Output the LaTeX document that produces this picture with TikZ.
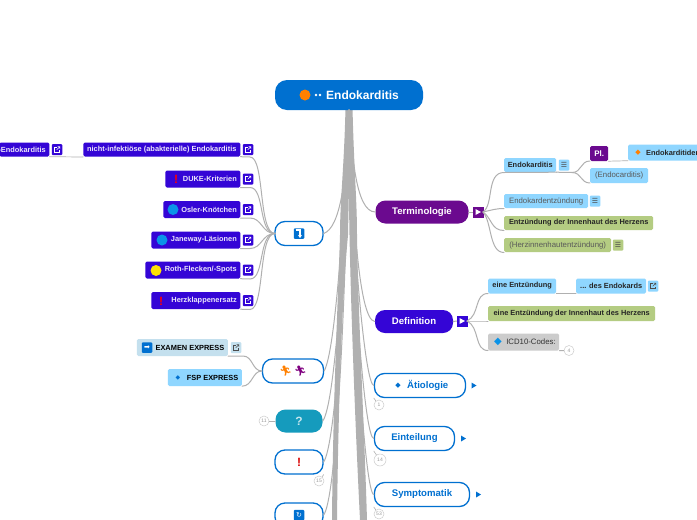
\documentclass[tikz,border=0pt]{standalone}
\usepackage{fontspec}
\usetikzlibrary{arrows.meta}
\setmainfont{Liberation Sans}
\newfontfamily\djv{DejaVu Sans}
\newfontfamily\emojif{Noto Emoji}
\definecolor{cblue}{HTML}{0070D0}
\definecolor{cindigo}{HTML}{3405D6}
\definecolor{cpurple}{HTML}{6B0A8F}
\definecolor{clight}{HTML}{8FD6FF}
\definecolor{cgreen}{HTML}{B4CC82}
\definecolor{cpale}{HTML}{C4E0EE}
\definecolor{cgrey}{HTML}{CCCCCC}
\definecolor{cteal}{HTML}{159BBD}
\definecolor{cline}{HTML}{B0B0B0}
\definecolor{cdot}{HTML}{0A93E8}
\newcommand{\rtxt}[2]{\makebox[#1pt][r]{#2\hspace*{3.5pt}}}
\tikzset{
  conn/.style={draw=cline,line width=1pt,line cap=round},
  root/.style={fill=cblue,rounded corners=12pt,minimum width=148pt,minimum height=30pt,inner sep=0pt},
  whitebox/.style={draw=cblue,line width=1.3pt,fill=white,rounded corners=10pt,inner sep=0pt,text=cblue,font=\bfseries\fontsize{9.6}{10}\selectfont},
  filled/.style={rounded corners=10pt,inner sep=0pt,text=white,font=\bfseries\fontsize{9.6}{10}\selectfont},
  ind/.style={fill=cindigo,rounded corners=1.5pt,inner sep=0pt,text=white!90!cindigo,font=\bfseries\fontsize{7.4}{8}\selectfont,minimum height=14pt},
  leaf/.style={rounded corners=1.5pt,inner sep=0pt,text=black!85,font=\bfseries\fontsize{7.4}{8}\selectfont,minimum height=14pt},
  plainleaf/.style={leaf,text=black!65,font=\fontsize{7.8}{8}\selectfont},
  icon/.style={rounded corners=1pt,minimum width=10.5pt,minimum height=11pt,inner sep=0pt,font=\djv\fontsize{7}{7}\selectfont},
  blueic/.style={fill=cblue,rounded corners=1pt,minimum size=10.5pt,inner sep=0pt,text=white,font=\djv\fontsize{7}{7}\selectfont},
  badge/.style={circle,draw=black!20,fill=white,line width=.5pt,minimum size=10pt,inner sep=0pt,text=black!40,font=\fontsize{5}{5}\selectfont},
  linkglyph/.pic={
    \draw[line width=.55pt,#1] (-.5,-2.5) -- (-2.7,-2.5) -- (-2.7,2.7) -- (2.5,2.7) -- (2.5,.5);
    \draw[line width=.55pt,#1] (-.3,.3) -- (2.9,-2.9) (.6,-2.9) -- (2.9,-2.9) -- (2.9,-.6);
  },
}
\begin{document}
\begin{tikzpicture}[x=1pt,y=-1pt]
\path[use as bounding box,clip] (0,0) rectangle (697,520);
\fill[white] (0,0) rectangle (697,520);
\coordinate (t0) at (349,110);
% trunk strands
\fill[cline] (345.5,108) .. controls (344,170) and (340,200) .. (340,235) .. controls (338,300) and (333,400) .. (332,520)
  -- (337,520) .. controls (338,430) and (341,310) .. (348,235) .. controls (348.5,210) and (349,190) .. (349,180)
  .. controls (349,190) and (349,210) .. (349.5,235) .. controls (351,310) and (355,420) .. (360,520)
  -- (367,520) .. controls (364,420) and (358,310) .. (357,235) .. controls (357,200) and (354,170) .. (352.5,108) -- cycle;
% main nodes
\node[root] (root) at (349,95) {};
\node[text=white,font=\bfseries\fontsize{12}{12}\selectfont,anchor=west,inner sep=0pt] (roottext) at (326,95) {Endokarditis};
\fill[orange] (305,95) circle (5.5pt);
\fill[white] (316,95) circle (1.3pt) (320,95) circle (1.3pt);
\node[whitebox,minimum width=48pt,minimum height=24pt] (help) at (299,233.5) {};
\node[blueic] (helpic) at (299,233.5) {};
\draw[white,line width=1.1pt,-{Stealth[length=3pt,width=4pt]}] (295.5,230) -- (300,230) -- (300,238);
\node[whitebox,minimum width=61pt,minimum height=24pt,font=\emojif\fontsize{10}{10}\selectfont] (run) at (293,371) {\textcolor{orange}{🏃}\hspace{2pt}\textcolor{violet}{🏃}};
\node[filled,fill=cteal,minimum width=47pt,minimum height=23pt,text=white!75!cteal,font=\bfseries\fontsize{12}{12}\selectfont] (quest) at (299,421) {?};
\node[whitebox,minimum width=48pt,minimum height=24pt,text=red!85!black,font=\bfseries\fontsize{12}{12}\selectfont] (excl) at (299,462) {!};
\node[whitebox,minimum width=48pt,minimum height=24pt] (sync) at (299,515) {};
\node[blueic] (syncic) at (299,515) {↻};
\node[filled,fill=cpurple,minimum width=93pt,minimum height=23pt] (term) at (422,212) {Terminologie};
\node[filled,fill=cindigo,minimum width=78pt,minimum height=23pt] (def) at (414,321.5) {Definition};
\node[whitebox,minimum width=91pt,minimum height=24pt] (aet) at (420,385.5) {};
\node[text=cblue,font=\bfseries\fontsize{9.6}{10}\selectfont,inner sep=0pt,anchor=west] (aett) at (407,385.5) {Ätiologie};
\node[text=cblue,font=\djv\fontsize{7}{7}\selectfont,inner sep=0pt] (aetd) at (398,385.5) {◆};
\node[whitebox,minimum width=80pt,minimum height=24pt] (ein) at (414.5,438.5) {Einteilung};
\node[whitebox,minimum width=95pt,minimum height=24pt] (sym) at (422,494.5) {Symptomatik};
% trunk branches
\draw[conn] (t0) .. controls (347,180) and (340,228) .. (help.east);
\draw[conn] (t0) .. controls (345,200) and (336,350) .. (run.east);
\draw[conn] (t0) .. controls (345,250) and (335,405) .. (quest.east);
\draw[conn] (t0) .. controls (345,300) and (335,445) .. (excl.east);
\draw[conn] (t0) .. controls (345,340) and (335,500) .. (sync.east);
\draw[conn] (t0) .. controls (352,150) and (355,212) .. (term.west);
\draw[conn] (t0) .. controls (352,200) and (358,320) .. (def.west);
\draw[conn] (t0) .. controls (352,240) and (365,385) .. (aet.west);
\draw[conn] (t0) .. controls (352,280) and (365,440) .. (ein.west);
\draw[conn] (t0) .. controls (352,300) and (365,495) .. (sym.west);
% left indigo group
\coordinate (hj) at (275,233.5);
\node[ind,minimum width=157pt,anchor=east] (n1) at (240.5,149.5) {nicht-infektiöse (abakterielle) Endokarditis};
\node[ind,minimum width=50pt,anchor=east] (n0) at (49.5,149.5) {\rtxt{50}{-Endokarditis}};
\node[ind,minimum width=75pt,minimum height=17pt,anchor=east] (n2) at (240.5,179) {\rtxt{75}{DUKE-Kriterien}};
\node[ind,minimum width=77pt,minimum height=17pt,anchor=east] (n3) at (240.5,209.5) {\rtxt{77}{Osler-Knötchen}};
\node[ind,minimum width=89pt,minimum height=17pt,anchor=east] (n4) at (240.5,240) {\rtxt{89}{Janeway-Läsionen}};
\node[ind,minimum width=95pt,minimum height=17pt,anchor=east] (n5) at (240.5,270) {\rtxt{95}{Roth-Flecken/-Spots}};
\node[ind,minimum width=89pt,minimum height=17pt,anchor=east] (n6) at (240.5,300.5) {\rtxt{89}{Herzklappenersatz}};
\node[text=red,font=\bfseries\fontsize{12}{12}\selectfont,inner sep=0pt] (n2i) at (176,179) {!};
\node[text=red,font=\bfseries\fontsize{12}{12}\selectfont,inner sep=0pt] (n6i) at (161,301) {!};
\fill[cdot] (173,209.5) circle (5.5pt);
\fill[cdot] (162,240) circle (5.5pt);
\fill[yellow!85!orange] (156,270.5) circle (5.5pt);
\foreach \n/\y in {n1/149.5,n2/179,n3/209.5,n4/240,n5/270,n6/300.5}{
  \node[icon,fill=cindigo] (\n l) at (248,\y) {};
  \pic at (\n l) {linkglyph=white};
}
\node[icon,fill=cindigo] (n0l) at (57,149.5) {};
\pic at (n0l) {linkglyph=white};
\draw[conn,line width=.7pt] (n0.south east) -- (83,157) -- (n1.south west);
\draw[conn] (n1.south east) -- (250,157) .. controls (265,157) and (258,233.5) .. (hj);
\draw[conn] (n2.south east) -- (250,187.5) .. controls (265,187.5) and (258,233.5) .. (hj);
\draw[conn] (n3.south east) -- (250,218) .. controls (262,218) and (262,233.5) .. (hj);
\draw[conn] (n4.south east) -- (250,248.5) .. controls (262,248.5) and (262,233.5) .. (hj);
\draw[conn] (n5.south east) -- (250,279) .. controls (265,279) and (258,233.5) .. (hj);
\draw[conn] (n6.south east) -- (250,309.5) .. controls (265,309.5) and (258,233.5) .. (hj);
% express group
\coordinate (rj) at (262,371);
\node[leaf,fill=cpale,minimum width=91pt,minimum height=17pt,anchor=east,text=black] (ex) at (228,347.5) {\rtxt{91}{EXAMEN EXPRESS}};
\node[blueic] (exi) at (147,347.5) {➡};
\node[icon,fill=cpale] (exl) at (236,347.5) {};
\pic at (exl) {linkglyph=black!70};
\node[leaf,fill=clight,minimum width=74pt,minimum height=17pt,anchor=east,text=black] (fsp) at (242,377.5) {\rtxt{74}{FSP EXPRESS}};
\node[text=cblue,font=\djv\fontsize{6}{6}\selectfont,inner sep=0pt] (fspi) at (178,377.5) {◆};
\draw[conn] (ex.south east) -- (243,356) .. controls (253,356) and (252,371) .. (rj);
\draw[conn] (fsp.south east) .. controls (253,386) and (252,371) .. (rj);
% badges
\node[badge] (bq) at (264,421) {11};
\draw[conn,line width=.6pt] (bq) -- (quest);
\node[badge] (be) at (319,481) {15};
\draw[conn,line width=.6pt] (be) -- (excl.south east);
\node[badge] (ba) at (379,405) {1};
\draw[conn,line width=.6pt] (ba) -- (aet.south west);
\node[badge,minimum size=12pt] (bei) at (380,460) {14};
\draw[conn,line width=.6pt] (bei) -- (ein.south west);
\node[badge] (bs) at (379,514) {53};
\draw[conn,line width=.6pt] (bs) -- (sym.south west);
% arrows after collapsed nodes
\draw[conn] (term.east) -- (473,212);
\draw[conn] (def.east) -- (457,321);
\node[fill=cpurple,minimum size=11pt,inner sep=0pt] (termb) at (478,212) {};
\fill[white] (475.5,209) -- (481,212) -- (475.5,215) -- cycle;
\node[fill=cindigo,minimum size=11pt,inner sep=0pt] (defb) at (462,321) {};
\fill[white] (459.5,318) -- (465,321) -- (459.5,324) -- cycle;
\fill[cblue] (471.5,382.5) -- (476.5,385.5) -- (471.5,388.5) -- cycle;
\fill[cblue] (461,435.5) -- (466,438.5) -- (461,441.5) -- cycle;
\fill[cblue] (476,491.5) -- (481,494.5) -- (476,497.5) -- cycle;
% Terminologie children
\node[leaf,fill=clight,minimum width=52pt,minimum height=14pt,anchor=west] (t1) at (504,165) {Endokarditis};
\node[icon,fill=clight,text=black!70] (t1m) at (564,165) {☰};
\node[plainleaf,fill=clight,minimum width=84pt,minimum height=14pt,anchor=west] (t2) at (504,201) {Endokardentzündung};
\node[icon,fill=clight,text=black!70] (t2m) at (595,201) {☰};
\node[leaf,fill=cgreen,minimum width=149pt,minimum height=14pt,anchor=west] (t3) at (504,223) {Entzündung der Innenhaut des Herzens};
\node[plainleaf,fill=cgreen,minimum width=107pt,minimum height=14pt,anchor=west] (t4) at (504,245) {(Herzinnenhautentzündung)};
\node[icon,fill=cgreen,text=black!70] (t4m) at (618,245) {☰};
\node[fill=cpurple,rounded corners=1.5pt,minimum width=18pt,minimum height=15pt,inner sep=0pt,text=white,font=\bfseries\fontsize{8}{8}\selectfont,anchor=west] (pl) at (590,153.5) {Pl.};
\node[leaf,fill=clight,minimum width=75pt,minimum height=16pt,anchor=west] (endo) at (628,152.5) {\makebox[75pt][l]{\hspace*{18pt}Endokarditiden}};
\node[text=orange,font=\djv\fontsize{7}{7}\selectfont,inner sep=0pt] (endoi) at (638,152.5) {◆};
\node[plainleaf,fill=clight,minimum width=58pt,minimum height=15pt,anchor=west] (endoc) at (590,175.5) {(Endocarditis)};
\coordinate (tj) at (483,212);
\draw[conn] (tj) .. controls (494,205) and (486,172.5) .. (504,172.5) -- (t1.south east);
\draw[conn] (tj) .. controls (492,210) and (496,208.5) .. (504,208.5);
\draw[conn] (tj) .. controls (492,218) and (491,230.5) .. (504,230.5);
\draw[conn] (tj) .. controls (492,222) and (489,252.5) .. (504,252.5);
\draw[conn] (t1.south east) -- (572,172.5) .. controls (582,172.5) and (580,161) .. (590,161);
\draw[conn] (572,172.5) .. controls (582,172.5) and (580,183) .. (590,183);
\draw[conn,line width=.7pt] (pl.south east) -- (endo.south west);
% Definition children
\node[leaf,fill=clight,minimum width=68pt,minimum height=15pt,anchor=west] (d1) at (488,286) {eine Entzündung};
\node[leaf,fill=clight,minimum width=70pt,minimum height=15pt,anchor=west] (d1b) at (576,286) {... des Endokards};
\node[icon,fill=clight] (d1l) at (653,286) {};
\pic at (d1l) {linkglyph=black!70};
\node[leaf,fill=cgreen,minimum width=167pt,minimum height=15pt,anchor=west] (d2) at (488,313.5) {eine Entzündung der Innenhaut des Herzens};
\node[fill=cgrey,rounded corners=1.5pt,minimum width=71pt,minimum height=17pt,inner sep=0pt,anchor=west,text=black!80,font=\fontsize{7.8}{8}\selectfont] (d3) at (488,342) {\rtxt{71}{ICD10-Codes:}};
\node[text=cdot,font=\djv\fontsize{10}{10}\selectfont,inner sep=0pt] (d3i) at (498,342) {◆};
\node[badge] (bd) at (569,350.5) {4};
\coordinate (dj) at (467,321);
\draw[conn] (dj) .. controls (480,315) and (474,293.5) .. (488,293.5);
\draw[conn] (dj) .. controls (476,321) and (480,321) .. (488,321);
\draw[conn] (dj) .. controls (480,327) and (474,350.5) .. (488,350.5);
\draw[conn] (d1.south east) -- (d1b.south west);
\draw[conn] (d3.south east) -- (bd);
\end{tikzpicture}
\end{document}
